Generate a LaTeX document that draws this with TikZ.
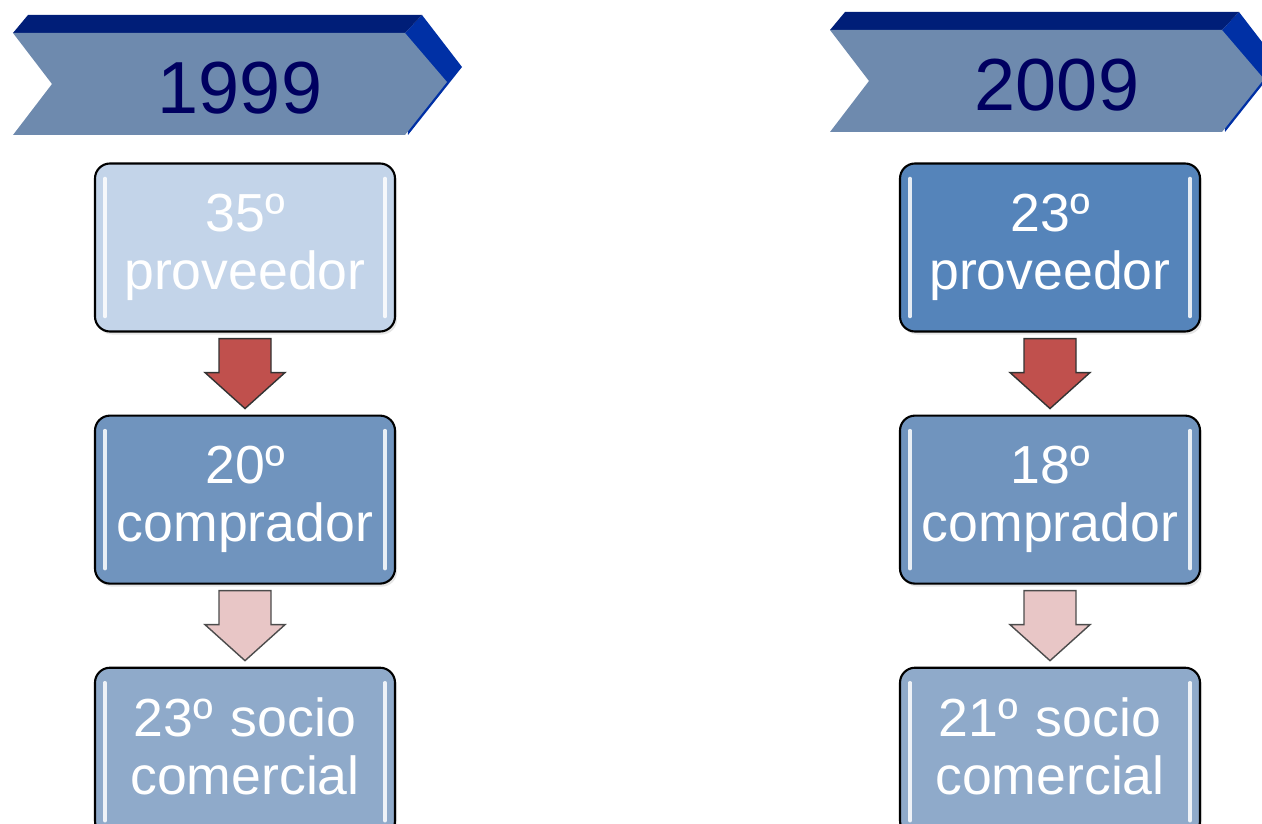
\documentclass[tikz,border=0pt]{standalone}
\usepackage{fontspec}
\setmainfont{Liberation Sans}
\usetikzlibrary{calc, positioning, shadows}

\definecolor{yearnavy}{HTML}{000060}
\definecolor{bannertop}{HTML}{001E78}
\definecolor{bannerside}{HTML}{0030A5}
\definecolor{bannerfront}{HTML}{6E8AAE}
\definecolor{boxlight}{HTML}{C3D4E9}
\definecolor{boxdark}{HTML}{5584BA}
\definecolor{boxmid}{HTML}{7094BE}
\definecolor{boxpale}{HTML}{8FAACA}
\definecolor{arrowred}{HTML}{C0504D}
\definecolor{arrowpink}{HTML}{E8C6C6}

% year banner: shift, name, year
\newcommand{\yearbanner}[3]{%
  \begin{scope}[shift={#1}]
    \fill[bannerside] (8.1,-0.66) -- (8.44,-0.3) -- (9.24,-1.34) -- (8.16,-2.7) -- cycle;
    \fill[bannertop] (0.26,-0.66) -- (0.56,-0.3) -- (8.44,-0.3) -- (8.1,-0.66) -- cycle;
    \fill[bannerfront] (0.26,-0.66) -- (8.1,-0.66) -- (8.94,-1.64) -- (8.1,-2.7)
      -- (0.26,-2.7) -- (1.04,-1.68) -- cycle;
    \node[yeartext] (#2) at (4.8,-1.76) {#3};
  \end{scope}}

% block arrow: style, from, to
\newcommand{\blockarrow}[3]{%
  \filldraw[#1] ($(#2.south)+(-0.52,-0.12)$) -- ($(#2.south)+(0.52,-0.12)$)
    -- ($(#2.south)+(0.52,-0.8)$) -- ($(#2.south)+(0.8,-0.8)$)
    -- ($(#3.north)+(0,0.12)$) -- ($(#2.south)+(-0.8,-0.8)$)
    -- ($(#2.south)+(-0.52,-0.8)$) -- cycle;}

\begin{document}
\begin{tikzpicture}[node distance={1.64cm},
  yeartext/.style = {text=yearnavy, font=\fontsize{42}{46}\selectfont, inner sep=0pt},
  rank/.style = {draw=black, line width=1.2pt, rounded corners=0.3cm,
    minimum width=6cm, minimum height=3.36cm, text width=5.9cm, align=center,
    inner sep=0pt, text=white, font=\fontsize{30.5}{33}\selectfont,
    drop shadow={opacity=0.2, shadow xshift=0.04cm, shadow yshift=-0.06cm},
    path picture={
      \draw[white, line width=2pt, line cap=round, opacity=0.85]
        ($(path picture bounding box.north west)+(0.2,-0.3)$) -- ($(path picture bounding box.south west)+(0.2,0.3)$);
      \draw[white, line width=2pt, line cap=round, opacity=0.85]
        ($(path picture bounding box.north east)+(-0.2,-0.3)$) -- ($(path picture bounding box.south east)+(-0.2,0.3)$);
    }},
  redarrow/.style = {fill=arrowred, draw=black!80, line width=0.8pt},
  pinkarrow/.style = {fill=arrowpink, draw=black!70, line width=0.8pt}]
  \useasboundingbox (0,0) rectangle (25.24,-16.46);
  \clip (0,0) rectangle (25.24,-16.46);

  % banners
  \yearbanner{(0,0)}{y99}{1999}
  \yearbanner{(16.34,0.06)}{y09}{2009}

  % 1999
  \node[rank, fill=boxlight] (p99) at (4.9,-4.95) {35º\\proveedor};
  \node[rank, fill=boxmid] (c99) [below=of p99] {20º\\comprador};
  \node[rank, fill=boxpale] (s99) [below=of c99] {23º socio\\comercial\vphantom{p}};

  % 2009
  \node[rank, fill=boxdark] (p09) at (21.0,-4.95) {23º\\proveedor};
  \node[rank, fill=boxmid] (c09) [below=of p09] {18º\\comprador};
  \node[rank, fill=boxpale] (s09) [below=of c09] {21º socio\\comercial\vphantom{p}};

  \blockarrow{redarrow}{p99}{c99}
  \blockarrow{pinkarrow}{c99}{s99}
  \blockarrow{redarrow}{p09}{c09}
  \blockarrow{pinkarrow}{c09}{s09}
\end{tikzpicture}
\end{document}
